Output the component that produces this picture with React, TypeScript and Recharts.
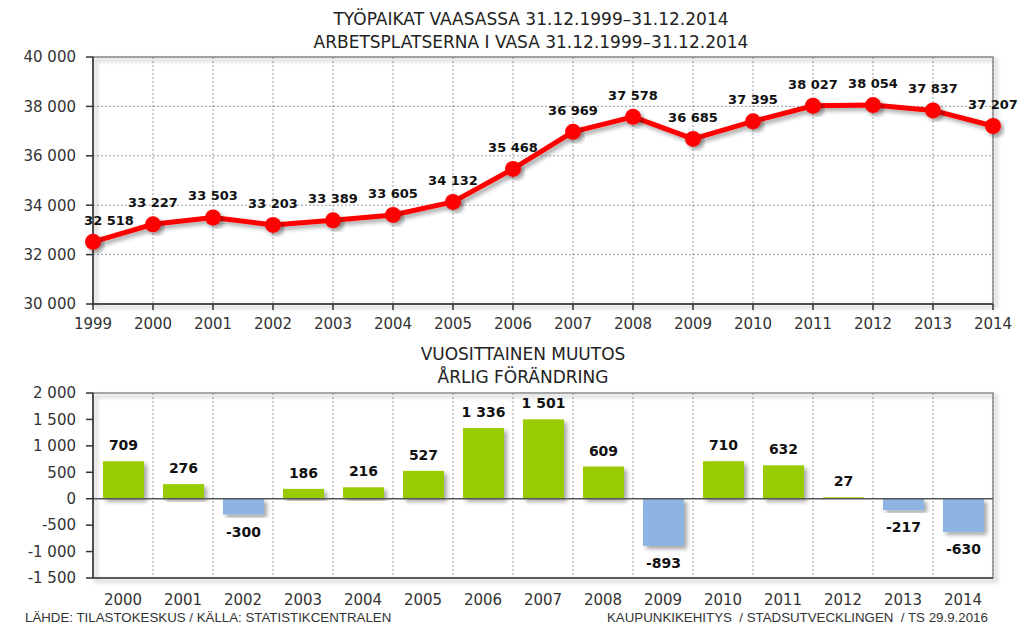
import React from 'react';
import {
  LineChart, Line, BarChart, Bar, Cell, XAxis, YAxis, CartesianGrid,
  ReferenceArea, ReferenceLine, LabelList,
} from 'recharts';

const years = [1999, 2000, 2001, 2002, 2003, 2004, 2005, 2006, 2007, 2008, 2009, 2010, 2011, 2012, 2013, 2014];
const jobs = [32518, 33227, 33503, 33203, 33389, 33605, 34132, 35468, 36969, 37578, 36685, 37395, 38027, 38054, 37837, 37207];

const changeYears = ['2000', '2001', '2002', '2003', '2004', '2005', '2006', '2007', '2008', '2009', '2010', '2011', '2012', '2013', '2014'];
const changes = [709, 276, -300, 186, 216, 527, 1336, 1501, 609, -893, 710, 632, 27, -217, -630];

const jobTicks = [30000, 32000, 34000, 36000, 38000, 40000];
const changeTicks = [-1500, -1000, -500, 0, 500, 1000, 1500, 2000];
const gridTicks = [0, 1, 2, 3, 4, 5, 6, 7, 8, 9, 10, 11, 12, 13, 14, 15];

const lineData = years.map((y, i) => ({ year: y, value: jobs[i] }));
const barData = changeYears.map((y, i) => ({ year: y, value: changes[i], pos: i + 0.5 }));

const fmt = (n: number) => {
  const s = Math.abs(n).toString().replace(/\B(?=(\d{3})+(?!\d))/g, ' ');
  return n < 0 ? '-' + s : s;
};

const tickFont = { fontFamily: 'DejaVu Sans', fontSize: 15, fill: '#333' };
const labelFont = { fontFamily: 'DejaVu Sans', fontSize: 13, fontWeight: 'bold' as const, fill: '#111' };
const barLabelFont = { ...labelFont, fontSize: 14 };
const titleStyle: React.CSSProperties = {
  position: 'absolute', left: 0, textAlign: 'center', fontFamily: 'DejaVu Sans',
  fontSize: 17, color: '#222', lineHeight: '23px',
};
const footStyle: React.CSSProperties = {
  position: 'absolute', top: 610, fontFamily: 'Liberation Sans', fontSize: 13.3,
  color: '#333', whiteSpace: 'pre',
};

const Shadow = () => (
  <defs>
    <filter id="sh" x="-20%" y="-20%" width="140%" height="140%">
      <feDropShadow dx="3" dy="3" stdDeviation="2" floodColor="#000" floodOpacity="0.35" />
    </filter>
  </defs>
);

const renderDot = (props: any) => (
  <circle key={props.index} cx={props.cx} cy={props.cy} r={8} fill="#FF0000" filter="url(#sh)" />
);

const renderLineLabel = (props: any) => {
  const { x, y, value, index } = props;
  return (
    <text x={index === 0 ? x + 16 : x} y={y - 17} textAnchor="middle" {...labelFont}>
      {fmt(value)}
    </text>
  );
};

const renderBar = (props: any) => {
  const { x, y, width, height, fill } = props;
  const top = Math.min(y, y + height);
  const h = Math.abs(height);
  return <rect x={x} y={top} width={width} height={h} fill={fill} filter="url(#sh)" />;
};

const renderBarLabel = (props: any) => {
  const { x, y, width, height, value } = props;
  const top = Math.min(y, y + height);
  const bottom = Math.max(y, y + height);
  const ly = value >= 0 ? top - 11 : bottom + 22;
  return (
    <text x={x + width / 2} y={ly} textAnchor="middle" {...barLabelFont}>
      {fmt(value)}
    </text>
  );
};

export default function App() {
  return (
    <div style={{ position: 'relative', width: 1029, height: 627, background: '#fff', overflow: 'hidden' }}>
      <style>{'body{margin:0}'}</style>

      <div style={{ ...titleStyle, top: 8, width: 1062 }}>
        TYÖPAIKAT VAASASSA 31.12.1999–31.12.2014<br />ARBETSPLATSERNA I VASA 31.12.1999–31.12.2014
      </div>

      <div style={{ position: 'absolute', top: 0, left: 0 }}>
        <LineChart width={1029} height={340} data={lineData} margin={{ top: 57, right: 36, bottom: 6, left: 8 }}>
          <Shadow />
          <CartesianGrid stroke="#9a9a9a" strokeDasharray="2 2" />
          <XAxis
            dataKey="year" type="number" domain={[1999, 2014]} ticks={years}
            tick={tickFont} tickSize={6} tickMargin={8} height={30}
            stroke="#333" strokeWidth={1.5} interval={0}
          />
          <YAxis
            domain={[30000, 40000]} ticks={jobTicks} tickFormatter={fmt}
            tick={tickFont} tickSize={7} tickMargin={10} width={85}
            stroke="#333" strokeWidth={1.5}
          />
          <ReferenceArea x1={1999} x2={2014} y1={30000} y2={40000} fill="none" stroke="#8c8c8c" strokeWidth={1.5} filter="url(#sh)" />
          <Line
            dataKey="value" stroke="#FF0000" strokeWidth={5} dot={renderDot}
            isAnimationActive={false} filter="url(#sh)"
          >
            <LabelList dataKey="value" content={renderLineLabel} />
          </Line>
        </LineChart>
      </div>

      <div style={{ ...titleStyle, top: 343, width: 1046 }}>
        VUOSITTAINEN MUUTOS<br />ÅRLIG FÖRÄNDRING
      </div>

      <div style={{ position: 'absolute', top: 340, left: 0 }}>
        <BarChart width={1029} height={287} data={barData} margin={{ top: 53, right: 36, bottom: 19, left: 8 }} barSize={41}>
          <Shadow />
          <XAxis xAxisId="grid" dataKey="pos" type="number" domain={[0, 15]} ticks={gridTicks} hide />
          <CartesianGrid xAxisId="grid" horizontal={false} stroke="#9a9a9a" strokeDasharray="2 2" />
          <XAxis
            xAxisId="cat" dataKey="year" tick={tickFont} tickSize={0} tickMargin={16}
            height={30} axisLine={false} tickLine={false} interval={0}
          />
          <YAxis
            domain={[-1500, 2000]} ticks={changeTicks} tickFormatter={fmt}
            tick={tickFont} tickSize={7} tickMargin={10} width={85}
            stroke="#333" strokeWidth={1.5}
          />
          <ReferenceArea xAxisId="grid" x1={0} x2={15} y1={-1500} y2={2000} fill="none" stroke="#8c8c8c" strokeWidth={1.5} filter="url(#sh)" />
          <ReferenceLine xAxisId="grid" y={-1500} stroke="#444" strokeWidth={1.5} />
          <ReferenceLine xAxisId="grid" y={0} stroke="#555" strokeWidth={1.5} />
          <Bar xAxisId="cat" dataKey="value" shape={renderBar} isAnimationActive={false}>
            {barData.map((d, i) => (
              <Cell key={i} fill={d.value >= 0 ? '#99CC00' : '#8DB4E2'} />
            ))}
            <LabelList dataKey="value" content={renderBarLabel} />
          </Bar>
        </BarChart>
      </div>

      <div style={{ ...footStyle, left: 25 }}>
        LÄHDE: TILASTOKESKUS / KÄLLA: STATISTIKCENTRALEN
      </div>
      <div style={{ ...footStyle, left: 607 }}>
        {'KAUPUNKIKEHITYS  / STADSUTVECKLINGEN  / TS 29.9.2016'}
      </div>
    </div>
  );
}
